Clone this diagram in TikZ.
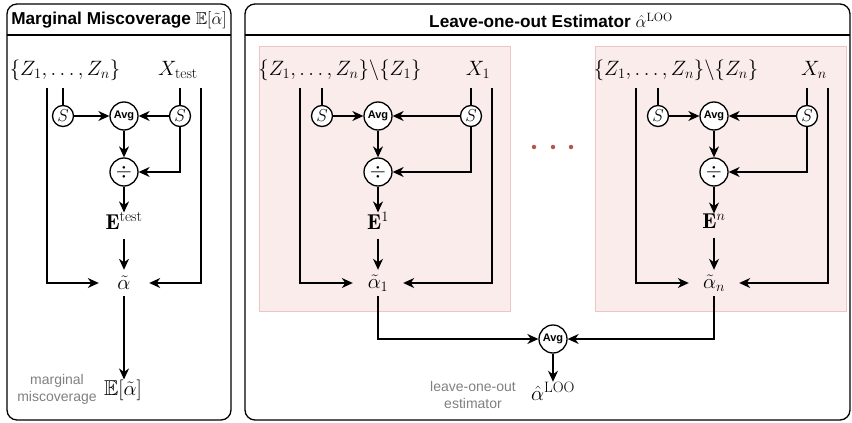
\documentclass[tikz,border=0pt]{standalone}
\usepackage{amsmath,amssymb}
\usepackage{fontspec}
\newfontfamily\hv{Liberation Sans}
\usetikzlibrary{arrows.meta}
\definecolor{pinkfill}{RGB}{250,236,235}
\definecolor{pinkdraw}{RGB}{236,198,196}
\definecolor{dotred}{RGB}{184,84,80}
\definecolor{graytxt}{RGB}{128,128,128}
\begin{document}
\begin{tikzpicture}[x=1pt,y=-1pt,
  every node/.style={inner sep=0pt},
  panel/.style={draw=black, line width=1.3pt, rounded corners=10pt},
  pinkbox/.style={draw=pinkdraw, fill=pinkfill, line width=1pt},
  conn/.style={line width=1.3pt},
  arr/.style={conn, -{Stealth[length=11pt,width=10pt,inset=3.5pt]}},
  opcirc/.style={circle, draw, line width=1.3pt, fill=white, minimum size=28pt},
  avgc/.style={opcirc, font=\hv\bfseries\fontsize{11}{11}\selectfont},
  divc/.style={opcirc, font=\fontsize{21}{21}\selectfont},
  scirc/.style={circle, draw, line width=1.3pt, fill=white, minimum size=21pt, font=\fontsize{17}{17}\selectfont},
  mlabel/.style={font=\fontsize{21.5}{23}\selectfont},
  alph/.style={mlabel, minimum width=50pt, minimum height=26pt},
  title/.style={font=\hv\bfseries\fontsize{17.2}{19}\selectfont},
  note/.style={font=\hv\fontsize{14}{17}\selectfont, text=graytxt, align=center},
  dot/.style={circle, fill=dotred, minimum size=4.5pt}
]
\useasboundingbox (0,0) rectangle (852,423);
% panels
\draw[panel] (7,4) rectangle (231,420);
\draw[conn] (7,35) -- (231,35);
\draw[panel] (245,4) rectangle (850,420);
\draw[conn] (245,35) -- (850,35);
\node[title] (t1) at (119,20) {Marginal Miscoverage $\mathbb{E}[\tilde{\alpha}]$};
\node[title] (t2) at (551,20) {Leave-one-out Estimator $\hat{\alpha}^{\mathrm{LOO}}$};
\draw[pinkbox] (259,46) rectangle (510,311);
\draw[pinkbox] (595,46) rectangle (846,311);
% dots
\node[dot] (d1) at (534,147) {};
\node[dot] (d2) at (553,147) {};
\node[dot] (d3) at (571,147) {};

% ---------- left panel ----------
\node[mlabel] (zset) at (65,70) {$\{Z_1,\ldots,Z_n\}$};
\node[mlabel] (xt) at (178,70) {$X_{\mathrm{test}}$};
\coordinate (lL) at (47,88);
\coordinate (lS) at (63,88);
\coordinate (rS) at (180,88);
\coordinate (rL) at (201,88);
\node[scirc] (s1) at (63,116) {$S$};
\node[avgc] (avg) at (124,116) {Avg};
\node[scirc] (s2) at (180,116) {$S$};
\node[divc] (div) at (124,172) {$\div$};
\node[mlabel] (E) at (124,221) {$\mathbf{E}^{\mathrm{test}}$};
\node[alph] (al) at (124,283) {$\tilde\alpha$};
\node[mlabel] (Eal) at (123,390) {$\mathbb{E}[\tilde\alpha]$};
\node[note] (n1) at (57,389) {marginal\\miscoverage};
\draw[conn] (lS) -- (s1);
\draw[conn] (rS) -- (s2);
\draw[arr] (s1) -- (avg);
\draw[arr] (s2) -- (avg);
\draw[arr] (avg) -- (div);
\draw[arr] (s2) |- (div);
\draw[arr] (div) -- (E);
\draw[arr, shorten <=9pt] (E) -- (al);
\draw[arr] (lL) |- (al);
\draw[arr] (rL) |- (al);
\draw[arr] (al.south) -- (al.south |- Eal.north);

% ---------- block 1 ----------
\node[mlabel] (z1set) at (340,70) {$\{Z_1,\ldots,Z_n\}\backslash\{Z_1\}$};
\node[mlabel] (x1) at (478,70) {$X_1$};
\coordinate (aL) at (300,88);
\coordinate (aS) at (322,88);
\coordinate (aR) at (471,88);
\coordinate (aRL) at (492,88);
\node[scirc] (as1) at (322,116) {$S$};
\node[avgc] (aavg) at (378,116) {Avg};
\node[scirc] (as2) at (471,116) {$S$};
\node[divc] (adiv) at (378,172) {$\div$};
\node[mlabel] (aE) at (378,221) {$\mathbf{E}^{1}$};
\node[alph] (aal) at (378,283) {$\tilde\alpha_1$};
\draw[conn] (aS) -- (as1);
\draw[conn] (aR) -- (as2);
\draw[arr] (as1) -- (aavg);
\draw[arr] (as2) -- (aavg);
\draw[arr] (aavg) -- (adiv);
\draw[arr] (as2) |- (adiv);
\draw[arr] (adiv) -- (aE);
\draw[arr, shorten <=9pt] (aE) -- (aal);
\draw[arr] (aL) |- (aal);
\draw[arr] (aRL) |- (aal);

% ---------- block n ----------
\node[mlabel] (znset) at (676,70) {$\{Z_1,\ldots,Z_n\}\backslash\{Z_n\}$};
\node[mlabel] (xn) at (814,70) {$X_n$};
\coordinate (bL) at (636,88);
\coordinate (bS) at (658,88);
\coordinate (bR) at (807,88);
\coordinate (bRL) at (828,88);
\node[scirc] (bs1) at (658,116) {$S$};
\node[avgc] (bavg) at (714,116) {Avg};
\node[scirc] (bs2) at (807,116) {$S$};
\node[divc] (bdiv) at (714,172) {$\div$};
\node[mlabel] (bE) at (714,221) {$\mathbf{E}^{n}$};
\node[alph] (bal) at (714,283) {$\tilde\alpha_n$};
\draw[conn] (bS) -- (bs1);
\draw[conn] (bR) -- (bs2);
\draw[arr] (bs1) -- (bavg);
\draw[arr] (bs2) -- (bavg);
\draw[arr] (bavg) -- (bdiv);
\draw[arr] (bs2) |- (bdiv);
\draw[arr] (bdiv) -- (bE);
\draw[arr, shorten <=9pt] (bE) -- (bal);
\draw[arr] (bL) |- (bal);
\draw[arr] (bRL) |- (bal);

% ---------- aggregation ----------
\node[avgc] (favg) at (553,339) {Avg};
\node[mlabel] (loo) at (553,391) {$\hat{\alpha}^{\mathrm{LOO}}$};
\node[note] (n2) at (473,395) {leave-one-out\\estimator};
\draw[arr] (aal) |- (favg);
\draw[arr] (bal) |- (favg);
\draw[arr] (favg) -- (loo);
\end{tikzpicture}
\end{document}
